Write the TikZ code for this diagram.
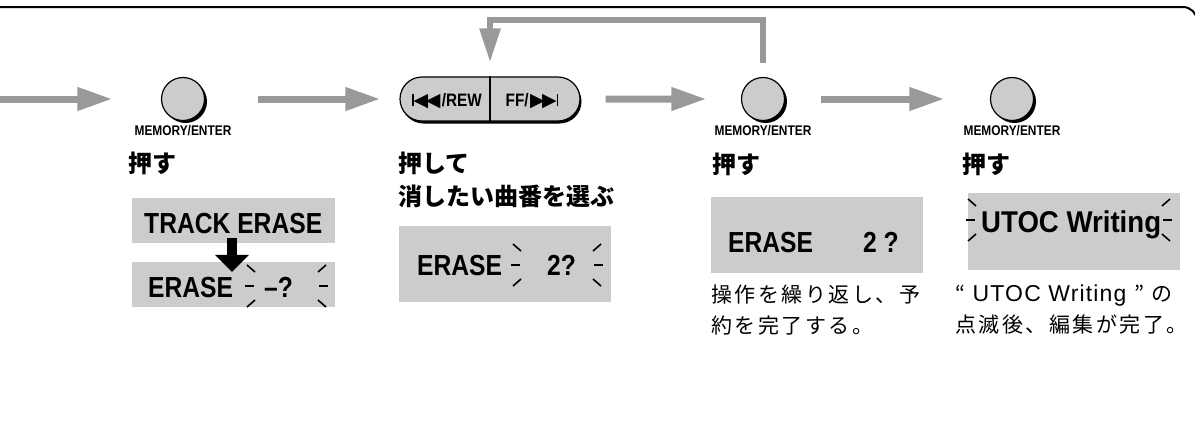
\documentclass[tikz,border=0pt]{standalone}
\usepackage{fontspec}
\setmainfont{Liberation Sans}
\newfontfamily\narrowfont[FakeStretch=0.85]{Liberation Sans}
\newfontfamily\widefont[FakeStretch=0.92]{Liberation Sans}
\newfontfamily\capfont[LetterSpace=5]{Liberation Sans}
\newfontfamily\jpfont{Noto Sans CJK JP}
\newfontfamily\jpcap[LetterSpace=12]{Noto Sans CJK JP}
\newfontfamily\symfont{DejaVu Sans}
\usetikzlibrary{positioning,arrows.meta,shapes.misc,shadows}

\definecolor{flowgray}{HTML}{999999}
\definecolor{lcdgray}{HTML}{CCCCCC}

\begin{document}
\begin{tikzpicture}[
    x=1pt, y=-1pt,
    flow/.style     = {draw=flowgray, line width=7pt,
                       -{Triangle[length=35pt,width=22pt]}},
    loopflow/.style = {draw=flowgray, line width=6pt,
                       -{Triangle[length=34pt,width=20pt]}},
    bigdown/.style  = {line width=10pt, -{Triangle[length=17pt,width=33pt]}},
    keybtn/.style   = {circle, draw, line width=1.2pt, fill=lcdgray,
                       minimum size=43pt, inner sep=0pt,
                       drop shadow={shadow xshift=2.5pt, shadow yshift=-2.5pt,
                                    fill=black, opacity=1}},
    keylabel/.style = {font=\narrowfont\bfseries\fontsize{14}{14}\selectfont,
                       inner sep=0pt},
    pill/.style     = {rounded rectangle, draw, line width=1.2pt, fill=lcdgray,
                       minimum width=180pt, minimum height=44pt, inner sep=0pt,
                       drop shadow={shadow xshift=1.5pt, shadow yshift=-2.5pt,
                                    fill=black, opacity=1}},
    pilltext/.style = {font=\narrowfont\bfseries\fontsize{18}{18}\selectfont,
                       inner sep=0pt},
    lcd/.style      = {fill=lcdgray, inner sep=0pt},
    lcdtext/.style  = {font=\narrowfont\bfseries\fontsize{29}{29}\selectfont,
                       inner sep=0pt, anchor=base west},
    press/.style    = {font=\jpfont\bfseries\fontsize{24}{33}\selectfont,
                       align=left, anchor=north west, inner sep=0pt},
    remark/.style   = {font=\jpcap\fontsize{21}{31}\selectfont,
                       align=left, anchor=north west, inner sep=0pt},
    blinkleft/.pic  = {\draw[line width=1.6pt] (-6,0) -- (3,0);
                       \draw[line width=1.6pt] (-4,-21) -- (4,-14);
                       \draw[line width=1.6pt] (-4,21) -- (4,14);},
    blinkright/.pic = {\draw[line width=1.6pt] (6,0) -- (-3,0);
                       \draw[line width=1.6pt] (4,-21) -- (-4,-14);
                       \draw[line width=1.6pt] (4,21) -- (-4,14);},
]
\useasboundingbox (0,0) rectangle (1195,440);

% frame line on top
\draw[line width=2pt, rounded corners=14pt] (-2,7) -- (1197,7) -- (1197,40);

% keys
\node[keybtn] (mem1) at (183,99) {};
\node[pill]   (skip) at (490,99) {};
\node[keybtn] (mem3) at (763,99) {};
\node[keybtn] (mem4) at (1012,99) {};
\draw[line width=1.2pt] (skip.north) -- (skip.south);
\node[pilltext] (rew) at (447,101)
    {\rule{1.5pt}{12.5pt}{\symfont\fontsize{19}{19}\selectfont ◀\kern-2.5pt◀}\kern1.5pt/REW};
\node[pilltext] (ff)  at (532,101)
    {FF/\kern1.5pt{\symfont\fontsize{19}{19}\selectfont ▶\kern-2.5pt▶}\rule{1.5pt}{12.5pt}};

\node[keylabel, below=4pt of mem1] (lab1) {MEMORY/ENTER};
\node[keylabel, below=4pt of mem3] (lab3) {MEMORY/ENTER};
\node[keylabel, below=4pt of mem4] (lab4) {MEMORY/ENTER};

% flow
\coordinate (in)   at (0,99);
\coordinate (loop) at (0,20);
\draw[flow, shorten >=48.5pt] (in) -- (mem1);
\draw[flow, shorten <=52.5pt, shorten >=19pt] (mem1) -- (skip);
\draw[flow, shorten <=25pt, shorten >=34.5pt] (skip) -- (mem3);
\draw[flow, shorten <=35.5pt, shorten >=45.5pt] (mem3) -- (mem4);
\draw[loopflow, shorten <=14pt, shorten >=14pt]
    (mem3.north) -- (mem3.north |- loop) -| (skip.north);

% step texts
\node[press] (press1) at (128,152) {押す};
\node[press] (press2) at (398,152) {押して\\消したい曲番を選ぶ};
\node[press] (press3) at (712,153) {押す};
\node[press] (press4) at (962,153) {押す};

% displays
\node[lcd, minimum width=203pt, minimum height=45pt] (track)  at (233.5,220.5) {};
\node[lcd, minimum width=203pt, minimum height=45pt] (erase1) at (233.5,284.5) {};
\node[lcd, minimum width=212pt, minimum height=76pt] (erase2) at (505,264) {};
\node[lcd, minimum width=212pt, minimum height=76pt] (erase3) at (817,235) {};
\node[lcd, minimum width=212pt, minimum height=77pt] (utocbox) at (1074,231.5) {};

\node[lcdtext] at (144,233) {TRACK ERASE};
\node[lcdtext] at (148,297) {ERASE};
\node[lcdtext] at (264,297) {–?};
\node[lcdtext] at (417,275) {ERASE};
\node[lcdtext] at (547,275) {2?};
\node[lcdtext] at (728,252) {ERASE};
\node[lcdtext] at (863,252) {2 ?};
\node[lcdtext, font=\widefont\bfseries\fontsize{30}{30}\selectfont]
    (utoc) at (981,232) {UTOC Writing};

\pic at (251,286) {blinkleft};
\pic at (322,286) {blinkright};
\pic at (517,265) {blinkleft};
\pic at (597,265) {blinkright};
\pic at (972,220) {blinkleft};
\pic at (1166,220) {blinkright};

\draw[bigdown] ([xshift=-1.5pt, yshift=5pt]track.south)
            -- ([xshift=-1.5pt, yshift=-10pt]erase1.north);

% remarks
\node[remark] (note3) at (711,285) {操作を繰り返し、予\\約を完了する。};
\node[remark] (note4) at (955,285)
    {“{\capfont\fontsize{23}{31}\selectfont\ UTOC Writing\ }”\ の\\点滅後、編集が完了。};
\end{tikzpicture}
\end{document}
